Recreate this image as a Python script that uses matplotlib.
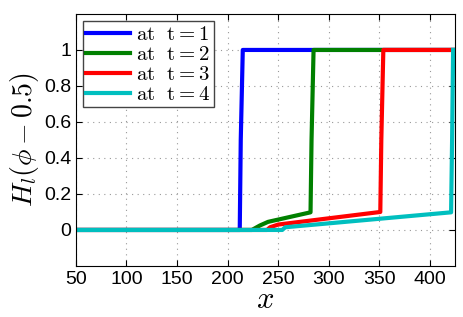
import matplotlib
matplotlib.use("Agg")
import matplotlib.pyplot as plt

plt.rcParams['mathtext.fontset'] = 'cm'

labels = [r'$\mathrm{at\ \ t=1}$', r'$\mathrm{at\ \ t=2}$', r'$\mathrm{at\ \ t=3}$', r'$\mathrm{at\ \ t=4}$']
colors = ['#0000ff', '#008000', '#ff0000', '#00bfbf']

x1 = [50, 212, 213, 215, 425]
y1 = [0, 0, 0.5, 1.0, 1.0]
x2 = [50, 224, 232, 240, 282, 283, 285, 425]
y2 = [0, 0, 0.025, 0.045, 0.098, 0.5, 1.0, 1.0]
x3 = [50, 239, 242, 250, 351, 352, 354, 425]
y3 = [0, 0, 0.015, 0.03, 0.1, 0.5, 1.0, 1.0]
x4 = [50, 254, 257, 421, 422, 423]
y4 = [0, 0, 0.015, 0.098, 0.5, 1.0]
xs = [x1, x2, x3, x4]
ys = [y1, y2, y3, y4]

xticks = [50, 100, 150, 200, 250, 300, 350, 400]
yticks = [0, 0.2, 0.4, 0.6, 0.8, 1]
yticklabels = ['0', '0.2', '0.4', '0.6', '0.8', '1']

fig = plt.figure(figsize=(4.63, 3.17), dpi=100)
ax = fig.add_axes([0.164, 0.161, 0.819, 0.795])
for x, y, c, l in zip(xs, ys, colors, labels):
    ax.plot(x, y, color=c, lw=3, label=l)
ax.set_xlim(50, 425)
ax.set_ylim(-0.2, 1.2)
ax.set_xticks(xticks)
ax.set_yticks(yticks)
ax.set_yticklabels(yticklabels)
for t in ax.get_xticklabels() + ax.get_yticklabels():
    t.set_family('Liberation Sans')
    t.set_fontsize(14)
ax.tick_params(direction='in', length=4, top=True, right=True)
ax.grid(True, linestyle=(0, (1, 4)), color='#999999', lw=0.8)
ax.set_xlabel(r'$x$', fontsize=22, labelpad=-2)
ax.set_ylabel(r'$H_l(\phi-0.5)$', fontsize=20, labelpad=2)
leg = ax.legend(loc='upper left', fontsize=15, labelspacing=0.0, handlelength=2.1,
                handletextpad=0.3, borderpad=0.15, borderaxespad=0.35, fancybox=False,
                framealpha=1)
leg.get_frame().set_edgecolor('#444444')
fig.savefig('out.png', dpi=100)
